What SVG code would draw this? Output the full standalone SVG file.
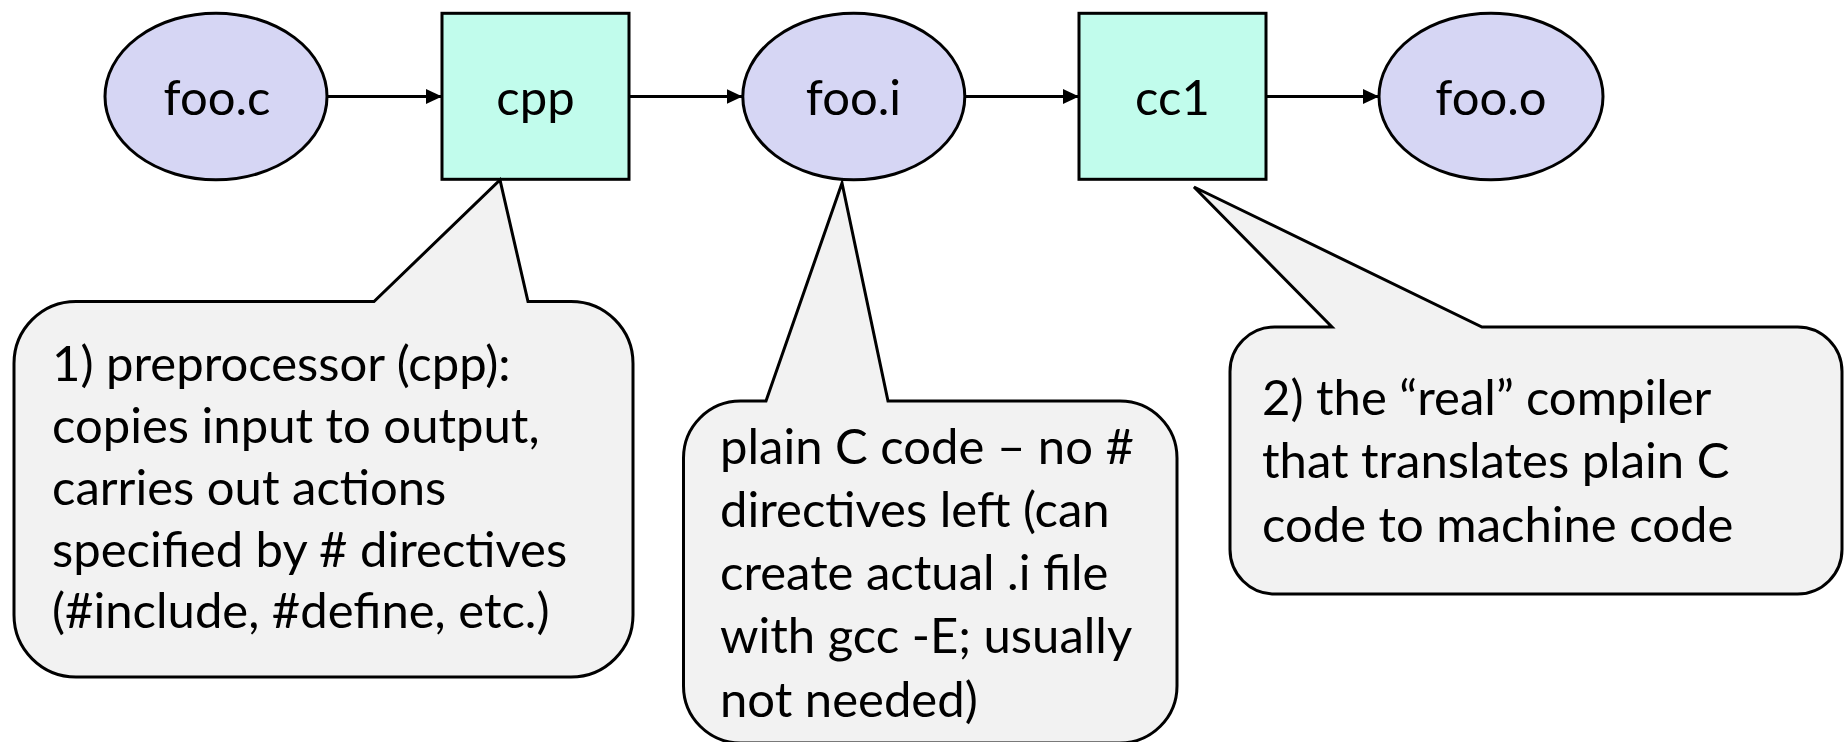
<svg xmlns="http://www.w3.org/2000/svg" width="1846" height="742" viewBox="0 0 1846 742">
<style>
  .file { fill: #D6D6F4; stroke: #000; stroke-width: 3; }
  .tool { fill: #C1FCEC; stroke: #000; stroke-width: 3; }
  .callout { fill: #F2F2F2; stroke: #000; stroke-width: 3; stroke-linejoin: miter; }
  .conn { stroke: #000; stroke-width: 3; fill: none; }
  .nlabel { font-family: Lato, "Liberation Sans", sans-serif; font-size: 49px; fill: #000; text-anchor: middle; }
  .ctext { font-family: Lato, "Liberation Sans", sans-serif; font-size: 49px; fill: #000; }
</style>
<defs>
  <marker id="arrow" markerUnits="userSpaceOnUse" markerWidth="16" markerHeight="16" viewBox="0 0 16 16" refX="16" refY="8" orient="auto">
    <path d="M0,0.5 L16,8 L0,15.5 Z" fill="#000"/>
  </marker>
</defs>
<rect x="0" y="0" width="1846" height="742" fill="#FFFFFF"/>

<g id="connectors">
  <line class="conn" x1="327" y1="96.5" x2="442" y2="96.5" marker-end="url(#arrow)"/>
  <line class="conn" x1="629" y1="96.5" x2="742.5" y2="96.5" marker-end="url(#arrow)"/>
  <line class="conn" x1="965" y1="96.5" x2="1079" y2="96.5" marker-end="url(#arrow)"/>
  <line class="conn" x1="1266" y1="96.5" x2="1379" y2="96.5" marker-end="url(#arrow)"/>
</g>

<g id="foo_c">
  <ellipse class="file" cx="216" cy="96.5" rx="111" ry="83.3"/>
  <text class="nlabel" x="217" y="115">foo.c</text>
</g>
<g id="cpp">
  <rect class="tool" x="442" y="13.3" width="187" height="166"/>
  <text class="nlabel" x="535.5" y="115">cpp</text>
</g>
<g id="foo_i">
  <ellipse class="file" cx="853.8" cy="96.5" rx="111" ry="83.3"/>
  <text class="nlabel" x="853.5" y="115">foo.i</text>
</g>
<g id="cc1">
  <rect class="tool" x="1079" y="13.3" width="187" height="166"/>
  <text class="nlabel" x="1172.5" y="115">cc1</text>
</g>
<g id="foo_o">
  <ellipse class="file" cx="1491" cy="96.5" rx="112" ry="83.3"/>
  <text class="nlabel" x="1491" y="115">foo.o</text>
</g>

<g id="callout_cpp">
  <path class="callout" d="M76,301.5 L374,301.5 L500,180 L528,301.5 L571,301.5 A62,62 0 0 1 633,363.5 L633,615 A62,62 0 0 1 571,677 L76,677 A62,62 0 0 1 14,615 L14,363.5 A62,62 0 0 1 76,301.5 Z"/>
  <text class="ctext">
    <tspan x="52" y="381">1) preprocessor (cpp):</tspan>
    <tspan x="52" y="443">copies input to output,</tspan>
    <tspan x="52" y="505">carries out actions</tspan>
    <tspan x="52" y="567">specified by # directives</tspan>
    <tspan x="52" y="628">(#include, #define, etc.)</tspan>
  </text>
</g>

<g id="callout_foo_i">
  <path class="callout" d="M740.5,401 L766,401 L842,183 L888,401 L1120,401 A57,57 0 0 1 1177,458 L1177,686 A57,57 0 0 1 1120,743 L740.5,743 A57,57 0 0 1 683.5,686 L683.5,458 A57,57 0 0 1 740.5,401 Z"/>
  <text class="ctext">
    <tspan x="720" y="463.5">plain C code – no #</tspan>
    <tspan x="720" y="526.8">directives left (can</tspan>
    <tspan x="720" y="590">create actual .i file</tspan>
    <tspan x="720" y="653.3">with gcc -E; usually</tspan>
    <tspan x="720" y="716.7">not needed)</tspan>
  </text>
</g>

<g id="callout_cc1">
  <path class="callout" d="M1274.5,327 L1332,327 L1194,187 L1482,327 L1797.5,327 A44.5,44.5 0 0 1 1842,371.5 L1842,549.5 A44.5,44.5 0 0 1 1797.5,594 L1274.5,594 A44.5,44.5 0 0 1 1230,549.5 L1230,371.5 A44.5,44.5 0 0 1 1274.5,327 Z"/>
  <text class="ctext">
    <tspan x="1262" y="415">2) the “real” compiler</tspan>
    <tspan x="1262" y="478.3">that translates plain C</tspan>
    <tspan x="1262" y="541.7">code to machine code</tspan>
  </text>
</g>
</svg>
